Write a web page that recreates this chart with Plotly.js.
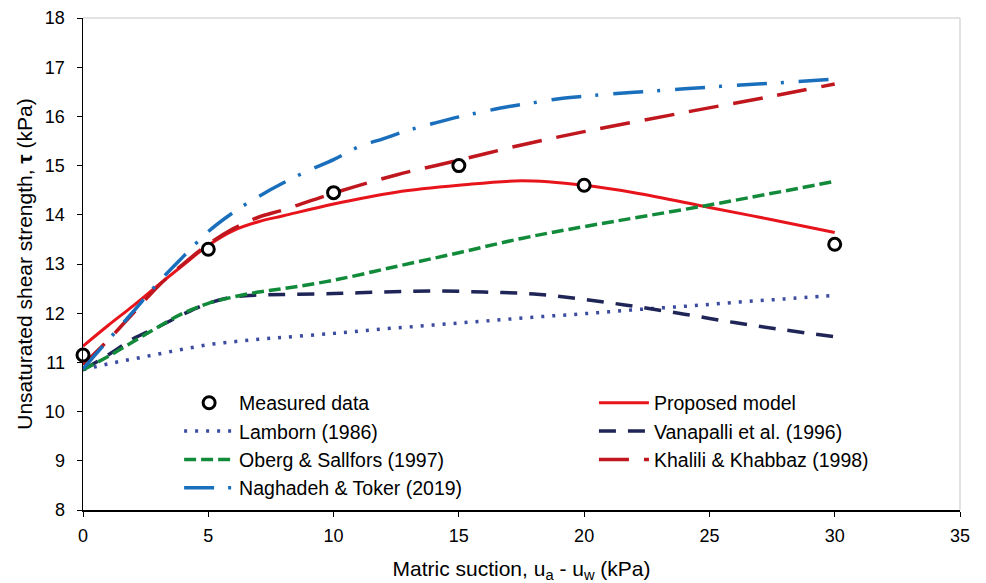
<!DOCTYPE html>
<html>
<head>
<meta charset="utf-8">
<script src="https://cdn.plot.ly/plotly-3.0.1.min.js"></script>
<style>html,body{margin:0;padding:0;background:#fff;}#chart{width:986px;height:583px;}</style>
</head>
<body>
<div id="chart"></div>
<script>
// Measured data
const measX = [0, 5, 10, 15, 20, 30];
const measY = [11.15, 13.3, 14.45, 15.0, 14.6, 13.4];

// Proposed model
const propX = [0, 1, 2, 3, 4, 5, 6, 7, 8, 10, 12.5, 15, 17.5, 20, 22, 25, 27.5, 30];
const propY = [11.33, 11.75, 12.15, 12.57, 12.98, 13.38, 13.68, 13.86, 13.98, 14.22, 14.46, 14.6, 14.69, 14.6, 14.45, 14.15, 13.9, 13.64];

// Lamborn (1986)
const lambX = [0, 1, 2, 3, 4, 5, 6, 7, 8, 10, 12, 14, 16, 18, 20, 22, 24, 26, 28, 30];
const lambY = [10.85, 10.97, 11.07, 11.17, 11.27, 11.36, 11.42, 11.47, 11.51, 11.59, 11.68, 11.76, 11.84, 11.92, 11.99, 12.07, 12.14, 12.22, 12.29, 12.36];

// Vanapalli et al. (1996)
const vanX = [0, 1, 2, 3, 4, 5, 6, 7, 8, 10, 12, 14, 16, 18, 20, 22, 24, 26, 28, 30];
const vanY = [10.85, 11.15, 11.48, 11.72, 11.98, 12.2, 12.33, 12.37, 12.38, 12.4, 12.43, 12.45, 12.43, 12.39, 12.28, 12.14, 11.98, 11.81, 11.66, 11.52];

// Oberg & Sallfors (1997)
const obX = [0, 1, 2, 3, 4, 5, 6, 7, 8, 10, 12.5, 15, 17.5, 20, 25, 30];
const obY = [10.85, 11.12, 11.42, 11.72, 12.0, 12.2, 12.33, 12.43, 12.5, 12.67, 12.95, 13.23, 13.52, 13.76, 14.2, 14.68];

// Khalili & Khabbaz (1998)
const khX = [0, 1, 2, 3, 4, 5, 6, 7, 8, 10, 12.5, 15, 17.5, 20, 24, 27.5, 30];
const khY = [10.95, 11.45, 12.0, 12.55, 13.0, 13.4, 13.72, 13.95, 14.1, 14.44, 14.81, 15.11, 15.42, 15.69, 16.08, 16.41, 16.66];

// Naghadeh & Toker (2019)
const naX = [0, 1, 2, 3, 4, 5, 6, 7, 8, 9, 10, 11, 12, 13, 14, 15, 16, 17, 18, 19, 20, 22, 24, 26, 28, 30];
const naY = [10.87, 11.45, 12.03, 12.62, 13.15, 13.66, 14.05, 14.37, 14.65, 14.9, 15.12, 15.38, 15.55, 15.72, 15.86, 15.99, 16.1, 16.2, 16.28, 16.36, 16.41, 16.49, 16.56, 16.63, 16.69, 16.76];

const traces = [
  {x: propX, y: propY, name: 'Proposed model', mode: 'lines', type: 'scatter', legend: 'legend2',
   line: {color: '#e8141b', width: 3, shape: 'spline'}},
  {x: lambX, y: lambY, name: 'Lamborn (1986)', mode: 'lines', type: 'scatter', legend: 'legend',
   line: {color: '#3b4ba0', width: 3.5, dash: '3px,8px', shape: 'spline'}},
  {x: vanX, y: vanY, name: 'Vanapalli et al. (1996)', mode: 'lines', type: 'scatter', legend: 'legend2',
   line: {color: '#1f2556', width: 3.5, dash: '17px,12px', shape: 'spline'}},
  {x: obX, y: obY, name: 'Oberg & Sallfors (1997)', mode: 'lines', type: 'scatter', legend: 'legend',
   line: {color: '#118a3a', width: 3.5, dash: '12px,5px', shape: 'spline'}},
  {x: khX, y: khY, name: 'Khalili & Khabbaz (1998)', mode: 'lines', type: 'scatter', legend: 'legend2',
   line: {color: '#c0171f', width: 3.5, dash: '30px,15px', shape: 'spline'}},
  {x: naX, y: naY, name: 'Naghadeh & Toker (2019)', mode: 'lines', type: 'scatter', legend: 'legend',
   line: {color: '#1a6fbd', width: 3.5, dash: '30px,14px,3px,15px', shape: 'spline'}},
  {x: measX, y: measY, name: 'Measured data', mode: 'markers', type: 'scatter', legend: 'legend',
   legendrank: 1, cliponaxis: false,
   marker: {symbol: 'circle', size: 12, color: '#ffffff', line: {color: '#000000', width: 3}}}
];
// legend order: Measured data first in the left column
traces.forEach((t, i) => { if (t.legendrank === undefined) t.legendrank = 10 + i; });

const font = 'Liberation Sans, Arial, sans-serif';
const legendFont = {family: font, size: 19.5, color: '#000'};

const layout = {
  width: 986, height: 583,
  margin: {l: 83, r: 26, t: 18, b: 73, pad: 0},
  paper_bgcolor: '#ffffff', plot_bgcolor: '#ffffff',
  font: {family: font, size: 17, color: '#000000'},
  showlegend: true,
  legend: {
    orientation: 'v', x: 0.1096, y: 0.257, xanchor: 'left', yanchor: 'top',
    itemwidth: 50, font: legendFont, bgcolor: 'rgba(0,0,0,0)', traceorder: 'normal'
  },
  legend2: {
    orientation: 'v', x: 0.5826, y: 0.257, xanchor: 'left', yanchor: 'top',
    itemwidth: 50, font: legendFont, bgcolor: 'rgba(0,0,0,0)', traceorder: 'normal'
  },
  xaxis: {
    range: [0, 35], dtick: 5, tick0: 0, showgrid: false, zeroline: false,
    showline: true, linecolor: '#000', linewidth: 1.5,
    ticks: 'outside', ticklen: 5, tickcolor: '#000', tickwidth: 1,
    ticklabelstandoff: 4,
    tickfont: {family: font, size: 18},
    title: {text: 'Matric suction, u<sub>a</sub> - u<sub>w</sub> (kPa)', font: {family: font, size: 21}, standoff: 20}
  },
  yaxis: {
    range: [8, 18], dtick: 1, tick0: 8, showgrid: false, zeroline: false,
    showline: true, linecolor: '#000', linewidth: 1.5,
    ticks: 'outside', ticklen: 5, tickcolor: '#000', tickwidth: 1,
    ticklabelstandoff: 8,
    tickfont: {family: font, size: 18},
    title: {text: 'Unsaturated shear strength, <b>τ</b> (kPa)', font: {family: font, size: 21}, standoff: 6}
  },
  shapes: [
    {type: 'line', xref: 'paper', yref: 'paper', x0: 0, x1: 1, y0: 1, y1: 1, line: {color: '#d9d9d9', width: 1.5}, layer: 'below'},
    {type: 'line', xref: 'paper', yref: 'paper', x0: 1, x1: 1, y0: 0, y1: 1, line: {color: '#d9d9d9', width: 1.5}, layer: 'below'}
  ]
};

Plotly.newPlot('chart', traces, layout, {displayModeBar: false, staticPlot: true});
</script>
</body>
</html>
